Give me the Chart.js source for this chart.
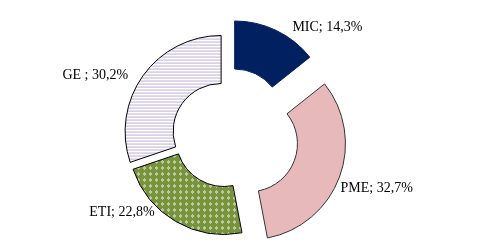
<!DOCTYPE html>
<html>
<head>
<meta charset="utf-8">
<script src="https://cdn.jsdelivr.net/npm/chart.js@4/dist/chart.umd.min.js"></script>
<style>
  html, body { margin: 0; padding: 0; background: #fff; }
  #wrap { width: 483px; height: 249px; }
</style>
</head>
<body>
<div id="wrap"><canvas id="donut" width="483" height="249"></canvas></div>
<script>
// data
var categories = ['MIC', 'PME', 'ETI', 'GE '];
var shares = [14.3, 32.7, 22.8, 30.2];

function makePattern(size, draw) {
    var c = document.createElement('canvas');
    c.width = size; c.height = size;
    var g = c.getContext('2d');
    draw(g);
    return document.getElementById('donut').getContext('2d').createPattern(c, 'repeat');
}

// GE: white with thin lavender horizontal lines
var stripes = makePattern(3, function (g) {
    g.fillStyle = '#ffffff';
    g.fillRect(0, 0, 3, 3);
    g.fillStyle = '#bcb0da';
    g.fillRect(0, 0, 3, 1);
});

// ETI: olive with small white dot rings
var dots = makePattern(6, function (g) {
    g.fillStyle = '#77933c';
    g.fillRect(0, 0, 6, 6);
    g.fillStyle = '#ffffff';
    g.fillRect(2, 1, 1, 1);
    g.fillRect(1, 2, 1, 1);
    g.fillRect(3, 2, 1, 1);
    g.fillRect(2, 3, 1, 1);
});

var fills = ['#002060', '#e8b9ba', dots, stripes];
var borders = ['#002060', '#333333', '#000000', '#000000'];

// pulls each slice out along its middle angle, like an exploded pie
var explodePlugin = {
    id: 'explode',
    beforeDatasetDraw: function (chart, args, opts) {
        var ctx = chart.ctx;
        args.meta.data.forEach(function (arc, i) {
            var mid = (arc.startAngle + arc.endAngle) / 2;
            var d = opts.distances[i] || 0;
            ctx.save();
            ctx.translate(Math.cos(mid) * d, Math.sin(mid) * d);
            arc.draw(ctx);
            ctx.restore();
        });
        return false;
    }
};

var sliceLabels = {
    id: 'sliceLabels',
    afterDatasetsDraw: function (chart, args, opts) {
        var ctx = chart.ctx;
        var dist = chart.options.plugins.explode.distances;
        var meta = chart.getDatasetMeta(0);
        ctx.save();
        ctx.font = opts.font;
        ctx.fillStyle = '#000';
        ctx.textBaseline = 'middle';
        meta.data.forEach(function (arc, i) {
            var mid = (arc.startAngle + arc.endAngle) / 2;
            var r = arc.outerRadius + (dist[i] || 0);
            var x = arc.x + Math.cos(mid) * r + opts.nudge[i][0];
            var y = arc.y + Math.sin(mid) * r + opts.nudge[i][1];
            ctx.textAlign = Math.cos(mid) >= 0 ? 'left' : 'right';
            var txt = categories[i] + '; ' + shares[i].toFixed(1).replace('.', ',') + '%';
            ctx.fillText(txt, x, y);
        });
        ctx.restore();
    }
};

new Chart(document.getElementById('donut'), {
    type: 'doughnut',
    data: {
        labels: categories,
        datasets: [{
            data: shares,
            backgroundColor: fills,
            borderColor: borders,
            borderWidth: 1,
            radius: 96,
            cutout: '50%'
        }]
    },
    options: {
        responsive: false,
        animation: false,
        layout: { padding: { left: 0, right: 31, top: 21, bottom: 0 } },
        plugins: {
            legend: { display: false },
            tooltip: { enabled: false },
            explode: { distances: [20, 25, 4, 6] },
            sliceLabels: {
                font: '14px "Liberation Serif"',
                nudge: [[16, -3], [1, 11], [-21, -9], [-15, 0]]
            }
        }
    },
    plugins: [explodePlugin, sliceLabels]
});
</script>
</body>
</html>
